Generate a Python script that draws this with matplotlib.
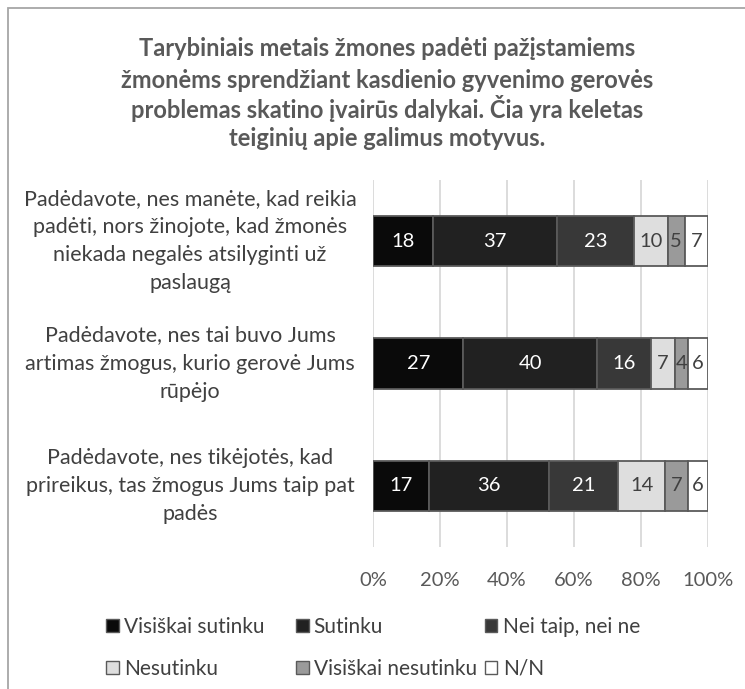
import matplotlib
matplotlib.use("Agg")
import matplotlib.pyplot as plt
from matplotlib.patches import Rectangle, Patch
import numpy as np

plt.rcParams['font.family'] = ['Lato', 'DejaVu Sans']

categories = [
    "Padėdavote, nes manėte, kad reikia\npadėti, nors žinojote, kad žmonės\nniekada negalės atsilyginti už\npaslaugą",
    "Padėdavote, nes tai buvo Jums\nartimas žmogus, kurio gerovė Jums\nrūpėjo",
    "Padėdavote, nes tikėjotės, kad\nprireikus, tas žmogus Jums taip pat\npadės",
]
series_names = ["Visiškai sutinku", "Sutinku", "Nei taip, nei ne",
                "Nesutinku", "Visiškai nesutinku", "N/N"]
visiskai_sutinku = [18, 27, 17]
sutinku = [37, 40, 36]
nei_taip = [23, 16, 21]
nesutinku = [10, 7, 14]
visiskai_nesutinku = [5, 4, 7]
nn = [7, 6, 6]
xtick_labels = ["0%", "20%", "40%", "60%", "80%", "100%"]
title_lines = ["Tarybiniais metais žmones padėti pažįstamiems",
               "žmonėms sprendžiant kasdienio gyvenimo gerovės",
               "problemas skatino įvairūs dalykai. Čia yra keletas",
               "teiginių apie galimus motyvus."]

series = [visiskai_sutinku, sutinku, nei_taip, nesutinku, visiskai_nesutinku, nn]
colors = ["#0a0a0a", "#212121", "#383838", "#dedede", "#9a9a9a", "#ffffff"]
text_colors = ["white", "white", "white", "#404040", "#404040", "#404040"]

W, H = 745, 689
fig = plt.figure(figsize=(W / 100, H / 100), dpi=100)
ax = fig.add_axes([373 / W, 1 - 547 / H, (708 - 373) / W, (547 - 180) / H])

data = np.array(series, dtype=float)
totals = data.sum(axis=0)
pct = data / totals * 100
y = np.arange(len(categories))
left = np.zeros(len(categories))
for i, name in enumerate(series_names):
    bars = ax.barh(y, pct[i], left=left, height=0.41, color=colors[i],
                   edgecolor="#5a5a5a", linewidth=1.3, label=name, zorder=3)
    for j, b in enumerate(bars):
        ax.text(left[j] + pct[i][j] / 2, y[j], str(series[i][j]),
                ha="center", va="center", fontsize=14.5, color=text_colors[i], zorder=4)
    left += pct[i]

ax.set_xlim(0, 100)
ax.set_ylim(len(categories) - 0.5, -0.5)
ax.set_xticks(np.linspace(0, 100, 6))
ax.set_xticklabels(xtick_labels, fontsize=14.5, color="#595959")
ax.tick_params(axis="x", length=0, pad=18)
ax.set_yticks([])
ax.grid(axis="x", color="#d9d9d9", linewidth=1.3, zorder=0)
for s in ax.spines.values():
    s.set_visible(False)

trans = matplotlib.transforms.blended_transform_factory(fig.transFigure, ax.transData)
for j, c in enumerate(categories):
    ax.text(190 / W, y[j], c, transform=trans, ha="center", va="center",
            multialignment="center", fontsize=15.5, color="#404040", linespacing=1.5)

title_y = [47, 78, 107, 136]
for ty, line in zip(title_y, title_lines):
    fig.text(387 / W, 1 - ty / H, line, ha="center", va="center_baseline", fontsize=17,
             fontweight="bold", color="#595959")

handles = [Patch(facecolor=colors[i], edgecolor="#5a5a5a", linewidth=1.0)
           for i in range(len(series_names))]
xs = [106, 296, 485]
for k in range(3):
    idx = [k, k + 3]
    leg = fig.legend([handles[i] for i in idx], [series_names[i] for i in idx],
                     loc="upper left", bbox_to_anchor=(xs[k] / W, 1 - 617 / H),
                     frameon=False, fontsize=15, handlelength=0.6, handleheight=0.6,
                     handletextpad=0.25, labelspacing=1.05, borderaxespad=0, borderpad=0)
    for t in leg.get_texts():
        t.set_color("#404040")

fig.patches.append(Rectangle((8 / W, -0.1), 1.2, 1 - 8 / H + 0.1, transform=fig.transFigure,
                             fill=False, edgecolor="#a6a6a6", linewidth=1.3))

fig.savefig("out.png", dpi=100)
